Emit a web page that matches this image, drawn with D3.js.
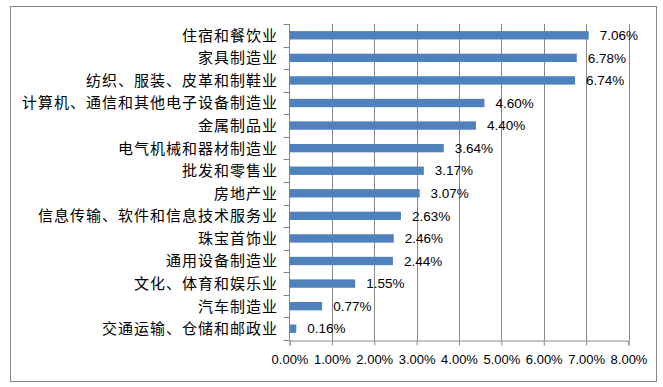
<!DOCTYPE html>
<html>
<head>
<meta charset="utf-8">
<script src="https://d3js.org/d3.v7.min.js"></script>
<style>
  body { margin: 0; background: #fff; }
  svg { display: block; }
</style>
</head>
<body>
<svg></svg>
<script>
// industries, top to bottom
var categories = ["住宿和餐饮业", "家具制造业", "纺织、服装、皮革和制鞋业",
  "计算机、通信和其他电子设备制造业", "金属制品业", "电气机械和器材制造业",
  "批发和零售业", "房地产业", "信息传输、软件和信息技术服务业", "珠宝首饰业",
  "通用设备制造业", "文化、体育和娱乐业", "汽车制造业", "交通运输、仓储和邮政业"];
var values = [7.06, 6.78, 6.74, 4.60, 4.40, 3.64, 3.17, 3.07, 2.63, 2.46, 2.44, 1.55, 0.77, 0.16];
var xTicks = [0, 1, 2, 3, 4, 5, 6, 7, 8];

var svgWidth = 663, svgHeight = 387;
// note: "top" is a reserved window prop, so use plot* names
var plotLeft = 289.5, plotRight = 628.5, plotTop = 24, plotBottom = 340;

var svg = d3.select("svg")
    .attr("width", svgWidth)
    .attr("height", svgHeight);

// outer chart frame
svg.append("rect")
    .attr("x", 10.5).attr("y", 6.5)
    .attr("width", 646).attr("height", 375)
    .attr("fill", "#fff")
    .attr("stroke", "#868686");

var xScale = d3.scaleLinear()
    .domain([0, 8])
    .range([plotLeft, plotRight]);

var yScale = d3.scaleBand()
    .domain(categories)
    .range([plotTop, plotBottom])
    .paddingInner(0.63)
    .paddingOuter(0.315);

// vertical gridlines
svg.append("g")
    .selectAll("line")
    .data(xTicks.slice(1))
    .enter()
    .append("line")
    .attr("x1", function(d) { return Math.round(xScale(d)) + 0.5; })
    .attr("x2", function(d) { return Math.round(xScale(d)) + 0.5; })
    .attr("y1", plotTop)
    .attr("y2", plotBottom)
    .attr("stroke", "#868686");

// x axis
var x_axis = d3.axisBottom()
    .scale(xScale)
    .tickValues(xTicks)
    .tickSize(5)
    .tickFormat(function(d) { return d.toFixed(2) + "%"; });

var gx = svg.append("g")
    .attr("transform", "translate(0," + (plotBottom + 0.5) + ")")
    .call(x_axis);
gx.select(".domain").attr("stroke", "#868686");
gx.selectAll(".tick line").attr("stroke", "#868686");
gx.selectAll(".tick text")
    .attr("y", 14)
    .attr("fill", "#000")
    .style("font-family", "'Liberation Sans', Arial, sans-serif")
    .style("font-size", "13px");

// y axis: ticks between categories
var bandStep = (plotBottom - plotTop) / categories.length;
var gy = svg.append("g");
gy.append("line")
    .attr("x1", plotLeft).attr("x2", plotLeft)
    .attr("y1", plotTop).attr("y2", plotBottom)
    .attr("stroke", "#868686");
gy.selectAll(".ytick")
    .data(d3.range(categories.length + 1))
    .enter()
    .append("line")
    .attr("class", "ytick")
    .attr("x1", plotLeft - 6).attr("x2", plotLeft)
    .attr("y1", function(i) { return Math.round(plotTop + i * bandStep) + 0.5; })
    .attr("y2", function(i) { return Math.round(plotTop + i * bandStep) + 0.5; })
    .attr("stroke", "#868686");

// category labels (letter-spacing to match the wider original glyphs)
svg.append("g")
    .selectAll("text")
    .data(categories)
    .enter()
    .append("text")
    .attr("x", 278)
    .attr("y", function(d) { return yScale(d) + yScale.bandwidth() / 2; })
    .attr("dy", "0.36em")
    .attr("text-anchor", "end")
    .style("font-family", "'Noto Sans CJK SC', sans-serif")
    .style("font-size", "15px")
    .style("letter-spacing", "1px")
    .attr("fill", "#000")
    .text(function(d) { return d; });

// bars
svg.append("g")
    .selectAll("rect")
    .data(values)
    .enter()
    .append("rect")
    .attr("x", plotLeft)
    .attr("y", function(d, i) { return yScale(categories[i]); })
    .attr("width", function(d) { return xScale(d) - plotLeft; })
    .attr("height", yScale.bandwidth())
    .attr("fill", "#4F81BD");

// value labels
svg.append("g")
    .selectAll("text")
    .data(values)
    .enter()
    .append("text")
    .attr("x", function(d) { return xScale(d) + 11; })
    .attr("y", function(d, i) { return yScale(categories[i]) + yScale.bandwidth() / 2; })
    .attr("dy", "0.35em")
    .style("font-family", "'Liberation Sans', Arial, sans-serif")
    .style("font-size", "13.5px")
    .attr("fill", "#000")
    .text(function(d) { return d.toFixed(2) + "%"; });
</script>
</body>
</html>
